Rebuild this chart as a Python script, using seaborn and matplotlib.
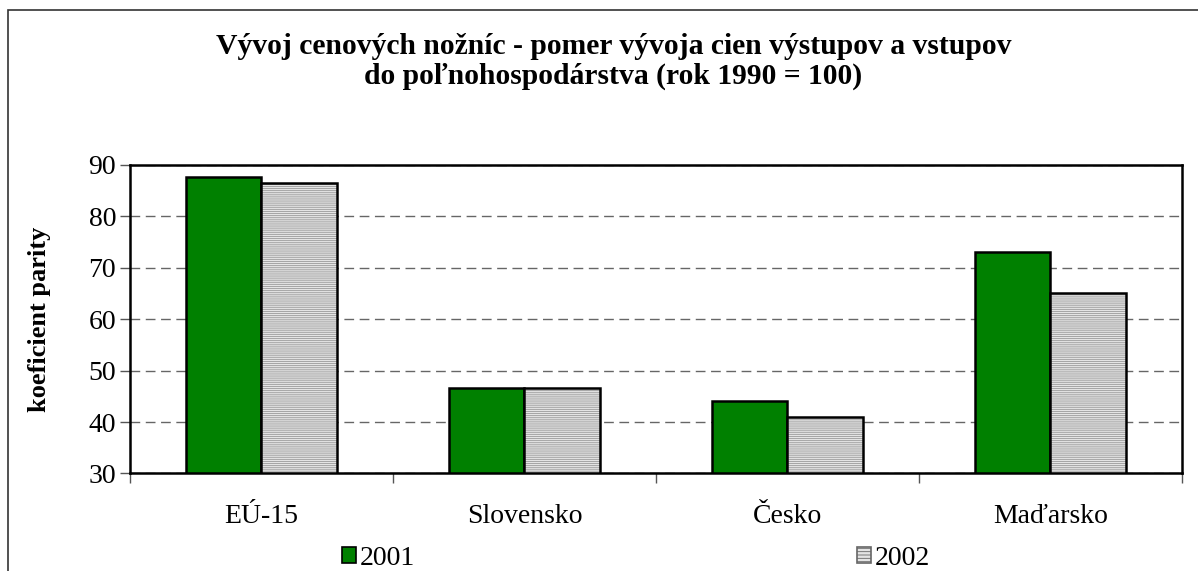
import pandas as pd
import matplotlib
matplotlib.use("Agg")
import matplotlib.pyplot as plt
from matplotlib.patches import Patch, Rectangle
import seaborn as sns

# data
krajiny = ["EÚ-15", "Slovensko", "Česko", "Maďarsko"]
roky = ["2001", "2002"]
hodnoty_2001 = [87.7, 46.6, 44.1, 73.0]
hodnoty_2002 = [86.4, 46.6, 40.9, 65.1]

df = pd.DataFrame({
    "krajina": krajiny * 2,
    "rok": [roky[0]] * 4 + [roky[1]] * 4,
    "hodnota": hodnoty_2001 + hodnoty_2002,
})

sns.set_style("white")
plt.rcParams["font.family"] = ["Liberation Serif", "DejaVu Serif"]
plt.rcParams["hatch.linewidth"] = 0.6
plt.rcParams["text.color"] = "black"
plt.rcParams["axes.labelcolor"] = "black"
plt.rcParams["xtick.color"] = "black"
plt.rcParams["ytick.color"] = "black"

zelena = "#008000"
seda = "#e4e4e4"

fig = plt.figure(figsize=(11.98, 5.71), dpi=100)
ax = fig.add_axes([0.1085, 0.1708, 0.8781, 0.5408])

sns.barplot(data=df, x="krajina", y="hodnota", hue="rok",
            palette=[zelena, seda], saturation=1, width=0.575,
            edgecolor="black", linewidth=1.8, ax=ax, legend=False)

# 2002 bars: fine horizontal gray hatch, black outline on top
for bar in ax.containers[1]:
    bar.set_hatch("--------")
    bar.set_edgecolor("#9a9a9a")
    bar.set_linewidth(0)
    ax.add_patch(Rectangle(bar.get_xy(), bar.get_width(), bar.get_height(),
                           fill=False, edgecolor="black", linewidth=1.8, zorder=3))

ax.set_ylim(30, 90)
ax.set_xlim(-0.5, 3.5)
ax.set_yticks(range(30, 91, 10))
ax.yaxis.grid(True, linestyle=(0, (7, 4)), color="#666666", linewidth=1.0)
ax.set_axisbelow(True)

for s in ax.spines.values():
    s.set_color("black")
    s.set_linewidth(1.8)

ax.tick_params(axis="y", which="major", direction="out", length=7, width=1,
               labelsize=20, pad=3, left=True, color="#555555")
ax.tick_params(axis="x", which="major", length=0, labelsize=20, pad=22)
ax.set_xticks([-0.5, 0.5, 1.5, 2.5, 3.5], minor=True)
ax.tick_params(axis="x", which="minor", direction="out", length=7, width=1,
               bottom=True, color="#555555")

ax.set_xlabel("")
ax.set_ylabel("koeficient parity", fontsize=19, fontweight="bold")
ax.yaxis.set_label_coords(-0.075, 0.5)

fig.text(0.512, 0.892,
         "Vývoj cenových nožníc - pomer vývoja cien výstupov a vstupov\n"
         "do poľnohospodárstva (rok 1990 = 100)",
         ha="center", va="center", fontsize=21.3, fontweight="bold",
         linespacing=1.12)

handles = [Patch(facecolor=zelena, edgecolor="black", linewidth=1.2),
           Patch(facecolor=seda, edgecolor="#666666", hatch="-----", linewidth=1.2)]
fig.legend(handles, roky, loc="center", bbox_to_anchor=(0.531, 0.022),
           ncol=2, frameon=False, fontsize=20, handlelength=0.5,
           handleheight=0.5, handletextpad=0.15, columnspacing=15.9,
           borderpad=0, borderaxespad=0)

# outer chart frame (right and bottom edges fall outside the picture)
fig.patches.append(Rectangle((0.0063, -0.05), 1.1, 0.9825 + 0.05,
                             transform=fig.transFigure, fill=False,
                             edgecolor="#333333", linewidth=1.2))

fig.savefig("out.png", dpi=100)
